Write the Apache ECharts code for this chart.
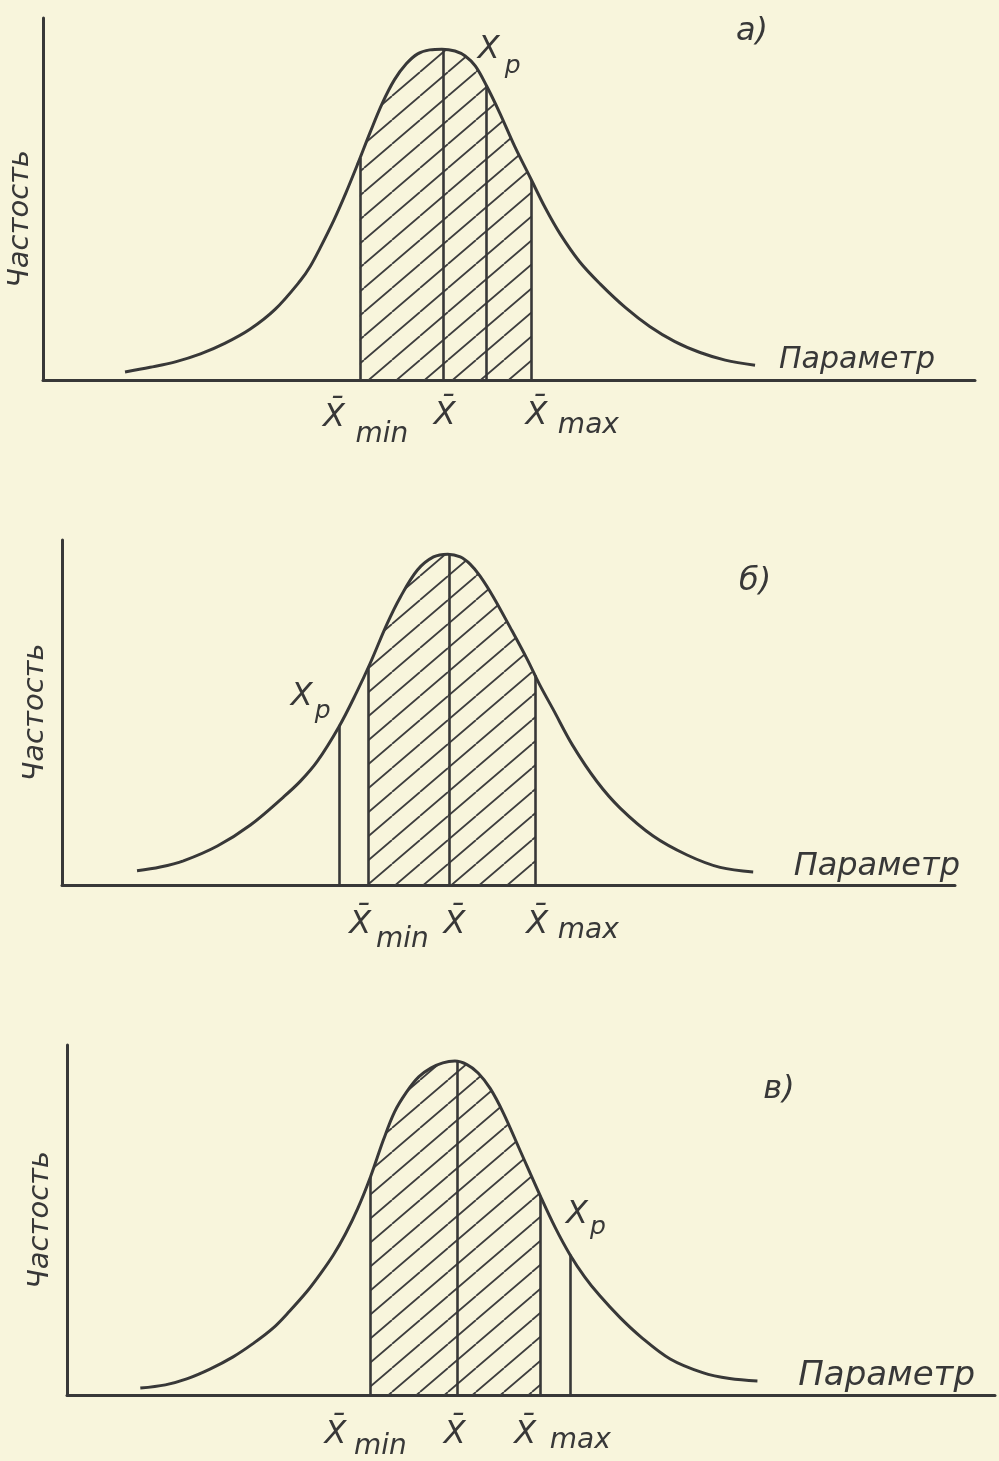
<!DOCTYPE html>
<html><head><meta charset="utf-8">
<script src="https://cdn.jsdelivr.net/npm/echarts@6/dist/echarts.min.js"></script>
<style>html,body{margin:0;padding:0;background:#f8f5dc}#c{width:999px;height:1461px}</style>
</head><body><div id="c"></div>
<script>
// ---------- DATA (parameter units 0..100, frequency units 0..100) ----------
// Panel а)
const curveA = [[8.8,2.2],[11.5,3.5],[14.2,5.0],[16.9,7.2],[19.5,10.1],[22.2,14.0],[24.9,19.5],[27.6,27.4],[28.7,31.5],[29.7,36.3],[31.2,44.1],[32.5,51.7],[33.8,59.9],[35.1,68.4],[36.4,76.4],[37.7,82.9],[39.0,87.4],[40.2,90.1],[41.5,91.2],[42.8,91.4],[44.2,90.9],[45.3,89.5],[46.4,86.7],[47.6,81.2],[49.0,73.8],[50.6,64.6],[52.3,55.8],[53.9,47.5],[55.5,40.3],[57.6,32.6],[59.8,26.5],[62.5,20.0],[65.1,14.8],[67.8,10.6],[70.5,7.6],[73.2,5.5],[76.4,4.1]];
// order: Xmin, X mean, Xp, Xmax
const marksXA = [34.0, 42.9, 47.6, 52.4];
const marksYA = [61.3, 91.4, 81.2, 55.2];
// Panel б)
const curveB = [[8.4,4.1],[11.0,5.2],[13.6,7.0],[17.4,11.3],[21.1,17.4],[24.8,25.5],[26.7,30.1],[28.6,35.9],[31.0,45.8],[33.0,55.9],[34.5,64.2],[36.4,75.7],[37.9,83.5],[39.8,91.3],[41.6,95.1],[43.2,95.9],[44.6,95.1],[45.7,93.0],[46.8,89.6],[48.3,83.5],[50.2,74.6],[52.1,65.4],[53.5,58.0],[55.0,50.9],[57.2,40.4],[59.9,30.0],[62.5,22.3],[66.2,14.2],[70.0,8.7],[73.7,5.1],[77.4,3.8]];
const marksXB = [34.3, 43.4, 31.1, 53.0];
const marksYB = [62.9, 95.9, 46.4, 60.8];
// Panel в)
const curveC = [[7.9,2.0],[10.6,2.9],[12.9,4.6],[15.4,7.4],[17.9,10.9],[20.0,14.6],[22.2,19.1],[24.0,24.0],[25.9,29.7],[27.3,34.6],[28.7,40.0],[30.0,46.0],[31.3,53.1],[32.7,62.3],[34.1,72.9],[35.3,80.9],[36.6,86.6],[37.9,90.9],[39.2,93.4],[40.5,94.9],[41.8,95.4],[43.1,94.4],[44.3,92.0],[45.6,87.6],[47.0,80.7],[48.8,70.0],[51.0,56.9],[52.6,47.9],[54.2,40.1],[55.8,33.7],[57.4,28.4],[59.6,22.1],[61.8,16.7],[65.0,10.3],[68.5,6.4],[71.4,4.7],[74.4,4.0]];
const marksXC = [32.7, 42.0, 54.2, 51.0];
const marksYC = [62.3, 95.3, 40.1, 56.9];

const panelLetters = ['а)', 'б)', 'в)'];
const xName = 'Параметр';
const yName = 'Частость';
const xBar = 'X\u0304';
const subMin = 'min', subMax = 'max', xpMain = 'X', xpSub = 'p';

// ---------- STYLE / LAYOUT ----------
const INK = '#383838';
const FONT = "'DejaVu Sans', sans-serif";
const SMOOTH = 0.35;
const grids = [
  {left: 43, top: 18, right: 24, bottom: 1081},
  {left: 62, top: 540, right: 44, bottom: 576},
  {left: 67, top: 1045, right: 4, bottom: 66}
];
const layout = [
  {xGap: -40, xPad: 5, xSize: 30, yGap: 8, yPad: [0, 40, 0, 0],
   xMinX: [-26, 38], xMinSub: [22, 55], xMean: [2, 36], xMaxX: [5, 36], xMaxSub: [57, 46],
   xpX: [2, -36], xpS: [26, -20], letter: [752, 32]},
  {xGap: 5, xPad: 2, xSize: 32, yGap: 12, yPad: [0, 0, 0, 0],
   xMinX: [-8, 40], xMinSub: [34, 55], xMean: [5, 40], xMaxX: [2, 40], xMaxSub: [53, 46],
   xpX: [-38, -28], xpS: [-17, -13], letter: [755, 582]},
  {xGap: -20, xPad: 2, xSize: 34, yGap: 12, yPad: [0, 0, 0, 0],
   xMinX: [-35, 40], xMinSub: [10, 52], xMean: [-2, 40], xMaxX: [-15, 40], xMaxSub: [40, 46],
   xpX: [7, -40], xpS: [28, -27], letter: [779, 1090]}
];

function makeHatch() {
  const w = 28, h = 24;
  const c = document.createElement('canvas');
  c.width = w; c.height = h;
  const g = c.getContext('2d');
  g.strokeStyle = '#3e3e3e';
  g.lineWidth = 1.8;
  g.beginPath();
  for (const dx of [-w, 0, w]) { g.moveTo(dx, h); g.lineTo(dx + w, 0); }
  g.stroke();
  return c;
}
const hatch = makeHatch();

const panels = [
  {curve: curveA, mx: marksXA, my: marksYA},
  {curve: curveB, mx: marksXB, my: marksYB},
  {curve: curveC, mx: marksXC, my: marksYC}
];

const xAxes = [], yAxes = [], series = [], graphics = [];
function txt(coord, text, off, size) {
  return {coord: coord, value: 0, label: {show: true, position: 'inside', formatter: text, offset: off,
    fontSize: size, fontStyle: 'italic', fontFamily: FONT, color: INK}};
}
panels.forEach((p, i) => {
  const L = layout[i];
  xAxes.push({gridIndex: i, type: 'value', min: 0, max: 100,
    axisLine: {show: true, lineStyle: {color: INK, width: 3}}, axisTick: {show: false},
    axisLabel: {show: false}, splitLine: {show: false},
    name: xName, nameLocation: 'end', nameGap: L.xGap,
    nameTextStyle: {align: 'right', verticalAlign: 'bottom', padding: [0, 0, L.xPad, 0],
      fontSize: L.xSize, fontStyle: 'italic', fontFamily: FONT, color: INK}});
  yAxes.push({gridIndex: i, type: 'value', min: 0, max: 100,
    axisLine: {show: true, lineStyle: {color: INK, width: 3}}, axisTick: {show: false},
    axisLabel: {show: false}, splitLine: {show: false},
    name: yName, nameLocation: 'middle', nameRotate: 90, nameGap: L.yGap,
    nameTextStyle: {fontSize: 29, fontStyle: 'italic', fontFamily: FONT, color: INK, padding: L.yPad}});
  const [xmin, xmean, xp, xmax] = p.mx;
  const [ymin, ymean, yp, ymax] = p.my;
  const hatchData = [[xmin, ymin]].concat(p.curve.filter(d => d[0] > xmin && d[0] < xmax)).concat([[xmax, ymax]]);
  series.push({type: 'line', xAxisIndex: i, yAxisIndex: i, data: hatchData, smooth: SMOOTH,
    showSymbol: false, lineStyle: {width: 0}, areaStyle: {color: {image: hatch, repeat: 'repeat'}, opacity: 1},
    silent: true, z: 1});
  series.push({type: 'line', xAxisIndex: i, yAxisIndex: i, data: p.curve, smooth: SMOOTH,
    showSymbol: false, lineStyle: {width: 3, color: INK}, silent: true, z: 3,
    markLine: {silent: true, symbol: ['none', 'none'], label: {show: false},
      lineStyle: {type: 'solid', color: INK, width: 2.6},
      data: p.mx.map((x, k) => [{coord: [x, 0]}, {coord: [x, p.my[k]]}])},
    markPoint: {silent: true, symbol: 'circle', symbolSize: 1, itemStyle: {color: 'rgba(0,0,0,0)'},
      data: [
        txt([xmin, 0], xBar, L.xMinX, 32), txt([xmin, 0], subMin, L.xMinSub, 28),
        txt([xmean, 0], xBar, L.xMean, 32),
        txt([xmax, 0], xBar, L.xMaxX, 32), txt([xmax, 0], subMax, L.xMaxSub, 28),
        txt([xp, yp], xpMain, L.xpX, 32), txt([xp, yp], xpSub, L.xpS, 25)
      ]}});
  graphics.push({type: 'text', x: L.letter[0], y: L.letter[1],
    style: {text: panelLetters[i], fill: INK, font: 'italic 32px ' + FONT, align: 'center', verticalAlign: 'middle'}});
});

const chart = echarts.init(document.getElementById('c'), null, {renderer: 'canvas'});
chart.setOption({
  backgroundColor: '#f8f5dc',
  animation: false,
  grid: grids.map(g => Object.assign({containLabel: false, outerBoundsMode: 'none'}, g)),
  xAxis: xAxes, yAxis: yAxes, series: series, graphic: graphics
});
</script></body></html>
